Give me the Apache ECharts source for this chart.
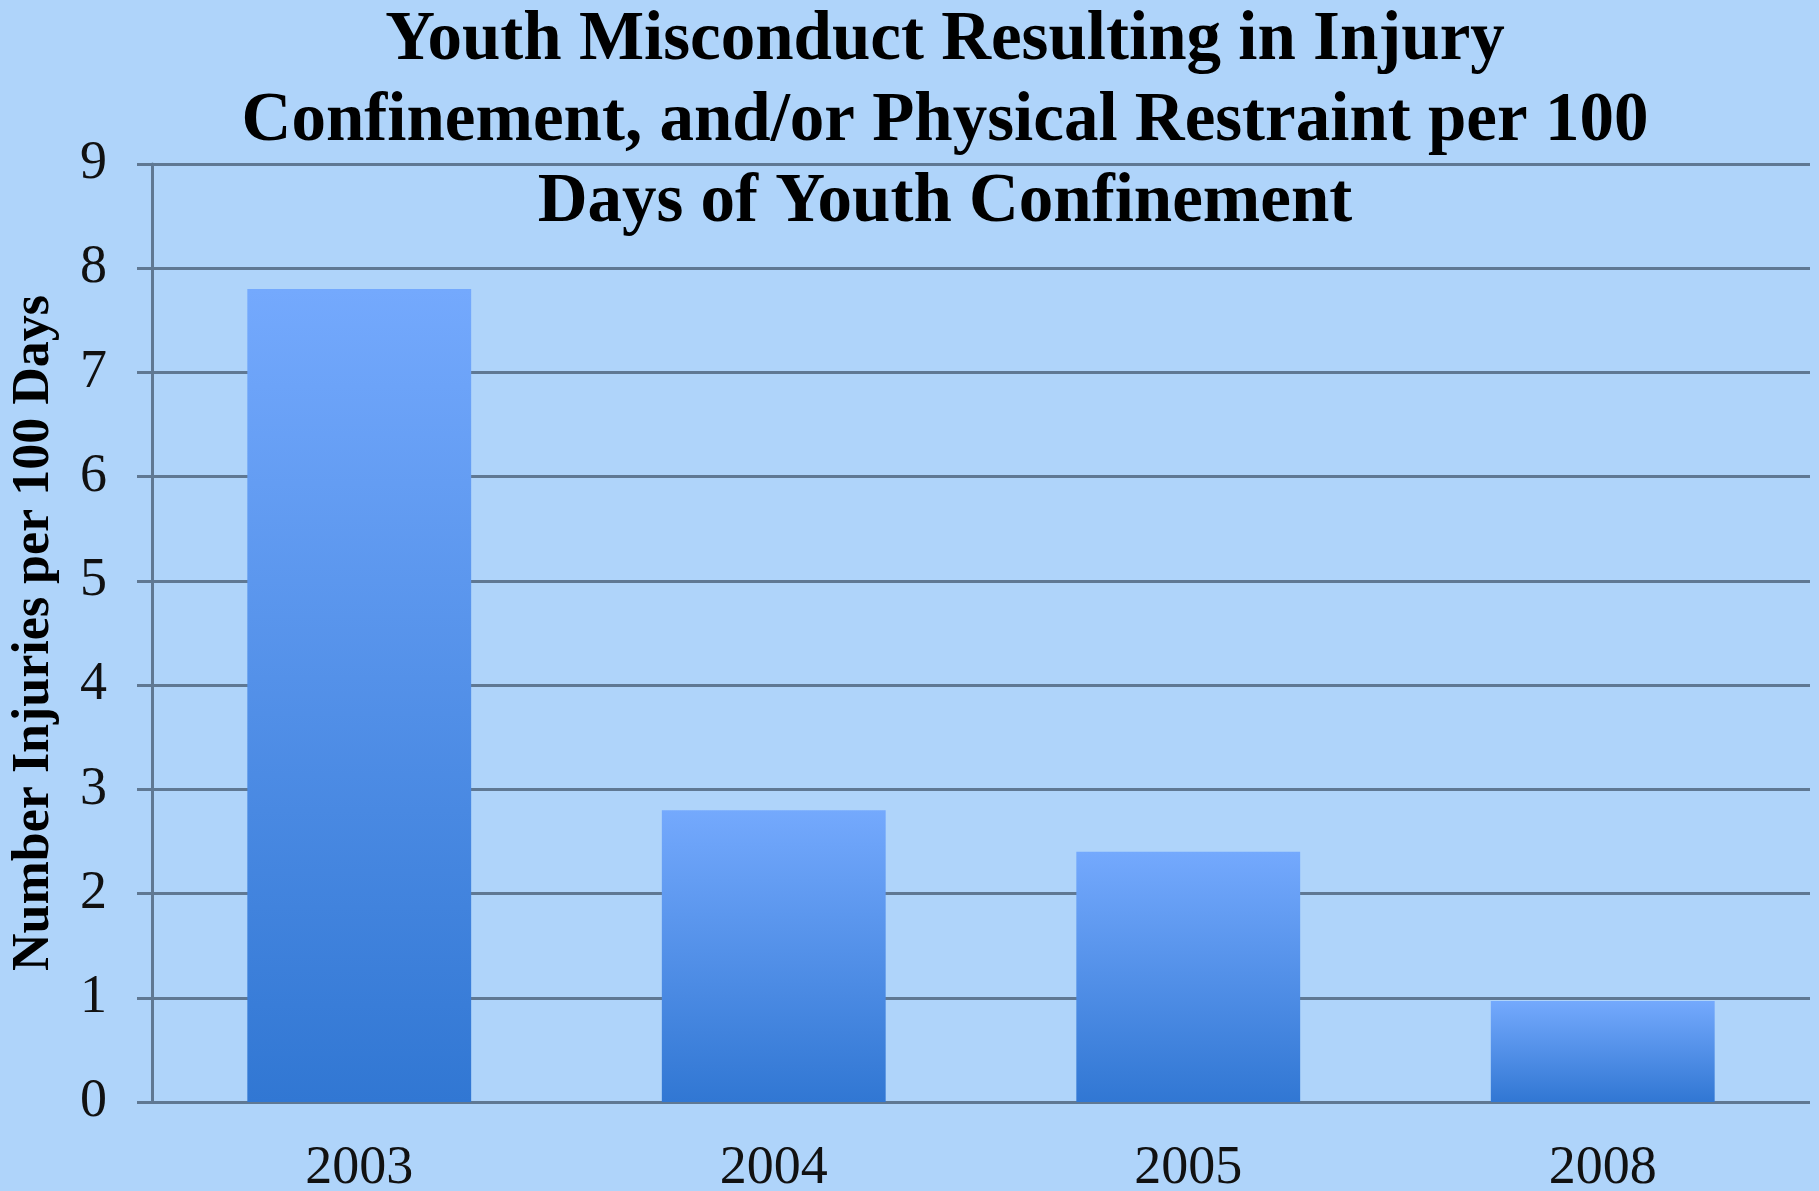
<!DOCTYPE html>
<html>
<head>
<meta charset="utf-8">
<style>
html,body{margin:0;padding:0;background:#afd4fa;}
#chart{width:1819px;height:1191px;}
</style>
<script src="https://cdn.jsdelivr.net/npm/echarts@6/dist/echarts.min.js"></script>
</head>
<body>
<div id="chart"></div>
<script>
var categories = ['2003', '2004', '2005', '2008'];
var injuries = [7.8, 2.8, 2.4, 0.97];
var yTicks = { min: 0, max: 9, interval: 1 };
var titleText = 'Youth Misconduct Resulting in Injury\nConfinement, and/or Physical Restraint per 100\nDays of Youth Confinement';
var yName = 'Number Injuries per 100 Days';

var chart = echarts.init(document.getElementById('chart'));
var gridColor = '#5f7893';
chart.setOption({
  backgroundColor: '#afd4fa',
  title: {
    text: titleText,
    left: 945,
    top: 1,
    padding: 0,
    textAlign: 'center',
    textStyle: {
      fontFamily: 'Liberation Serif',
      fontWeight: 'bold',
      fontSize: 69,
      lineHeight: 81,
      color: '#000'
    }
  },
  grid: { left: 152, right: 9, top: 164, bottom: 89, outerBoundsMode: 'none', containLabel: false },
  xAxis: {
    type: 'category',
    data: categories,
    axisLine: { show: false },
    axisTick: { show: false },
    axisLabel: {
      margin: 40,
      fontFamily: 'Liberation Serif',
      fontSize: 54,
      color: '#111'
    }
  },
  yAxis: {
    type: 'value',
    min: yTicks.min,
    max: yTicks.max,
    interval: yTicks.interval,
    name: yName,
    nameLocation: 'middle',
    nameGap: 91,
    nameRotate: 90,
    nameTextStyle: {
      fontFamily: 'Liberation Serif',
      fontWeight: 'bold',
      fontSize: 52,
      color: '#000'
    },
    axisLine: { show: true, lineStyle: { color: gridColor, width: 3 } },
    axisTick: { show: true, length: 15, lineStyle: { color: gridColor, width: 3 } },
    axisLabel: {
      margin: 45,
      fontFamily: 'Liberation Serif',
      fontSize: 54,
      color: '#111'
    },
    splitLine: { show: true, lineStyle: { color: gridColor, width: 3 } }
  },
  series: [{
    type: 'bar',
    data: injuries,
    barWidth: '54%',
    itemStyle: {
      color: new echarts.graphic.LinearGradient(0, 0, 0, 1, [
        { offset: 0, color: '#74a9fd' },
        { offset: 1, color: '#3177d3' }
      ]),
      shadowColor: 'rgba(40,70,120,0.25)',
      shadowBlur: 6
    }
  }]
});
</script>
</body>
</html>
